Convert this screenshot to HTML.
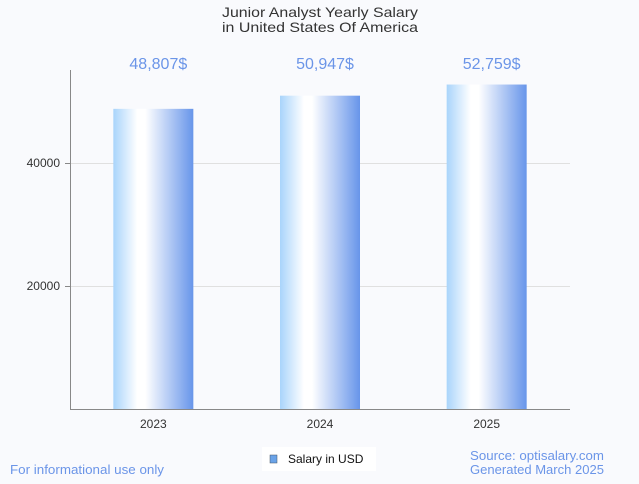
<!DOCTYPE html>
<html><head><meta charset="utf-8"><style>
html,body{margin:0;padding:0;background:#f9fafd;}
body{width:639px;height:479px;overflow:hidden;font-family:"Liberation Sans",sans-serif;}
</style></head><body>
<svg id="chart" width="639" height="479" xmlns="http://www.w3.org/2000/svg">
<defs>
<linearGradient id="bg" x1="0" x2="1" y1="0" y2="0">
<stop offset="0" stop-color="#a9d4fb"/><stop offset="0.3" stop-color="#ffffff"/><stop offset="0.4" stop-color="#ffffff"/><stop offset="1" stop-color="#6795ea"/>
</linearGradient>
</defs>
<rect width="639" height="479" fill="#f9fafd"/>
<text x="320" y="17" text-anchor="middle" font-size="14" textLength="196" lengthAdjust="spacingAndGlyphs" fill="#333">Junior Analyst Yearly Salary</text>
<text x="320" y="32" text-anchor="middle" font-size="14" textLength="196" lengthAdjust="spacingAndGlyphs" fill="#333">in United States Of America</text>
<g id="grid"></g><g id="bars"></g>
<line x1="70.5" y1="70" x2="70.5" y2="409" stroke="#888"/>
<line x1="70" y1="409.5" x2="570" y2="409.5" stroke="#888"/>
<rect x="262" y="447" width="114" height="24" fill="#fff"/>
<rect x="270" y="455" width="7" height="8" fill="#6aa3e8" stroke="#456" stroke-width="0.5"/>
<text x="288" y="463" font-size="12" fill="#111">Salary in USD</text>
<text x="10" y="474" font-size="13" textLength="154" lengthAdjust="spacingAndGlyphs" fill="#6b95e8">For informational use only</text>
<text x="470" y="460" font-size="13" textLength="134" lengthAdjust="spacingAndGlyphs" fill="#6b95e8">Source: optisalary.com</text>
<text x="470" y="474" font-size="13" textLength="134" lengthAdjust="spacingAndGlyphs" fill="#6b95e8">Generated March 2025</text>
</svg>
<script>
const categories=["2023","2024","2025"];
const salaries=[48807,50947,52759];
const valueLabels=["48,807$","50,947$","52,759$"];
const yTicks=[20000,40000];
const ns="http://www.w3.org/2000/svg";
const left=70,right=570,base=409,k=0.00615;
const y=v=>base-v*k;
const bw=(right-left)/categories.length;
const x=i=>left+bw*(i+0.5);
function mk(t,a,p){const e=document.createElementNS(ns,t);for(const n in a)e.setAttribute(n,a[n]);p.appendChild(e);return e;}
const grid=document.getElementById('grid'),bars=document.getElementById('bars');
yTicks.forEach(t=>{
 const l=mk('line',{x1:left-5,x2:right,y1:y(t)+0.5,y2:y(t)+0.5,stroke:'#e0e0e0'},grid);
 
 
 const tk=mk('line',{x1:left-5,x2:left,y1:y(t)+0.5,y2:y(t)+0.5,stroke:'#888'},grid);
 
 
 const tx=mk('text',{x:left-10,y:y(t)+4,'text-anchor':'end','font-size':12,fill:'#333'},grid);
 tx.textContent=t;
 
 
});
salaries.forEach((v,i)=>{
 const r=mk('rect',{x:x(i)-40,y:y(v),width:80,height:base-y(v),fill:'url(#bg)'},bars);
 
 
 const lb=mk('text',{x:x(i)+5,y:69,'text-anchor':'middle','font-size':16,fill:'#6b95e8'},bars);
 lb.textContent=valueLabels[i];
 
 
 const cl=mk('text',{x:x(i),y:428,'text-anchor':'middle','font-size':12,fill:'#333'},bars);
 cl.textContent=categories[i];
 
 
});
</script>
</body></html>
